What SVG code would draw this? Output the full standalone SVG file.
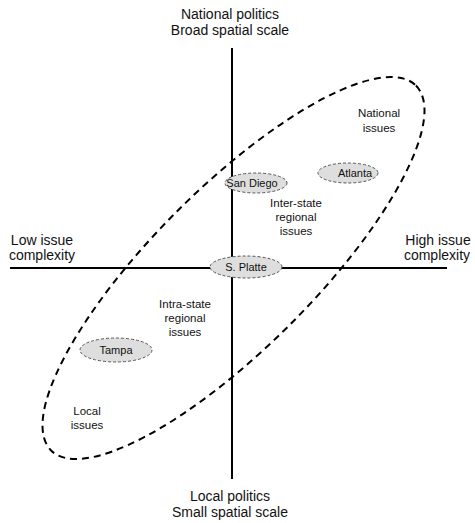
<svg xmlns="http://www.w3.org/2000/svg" width="475" height="523" viewBox="0 0 475 523">
<style>
  .ax { stroke:#000; stroke-width:2; fill:none; }
  .big { stroke:#000; stroke-width:2; fill:none; stroke-dasharray:7 5; }
  .node ellipse { fill:#dedede; stroke:#555; stroke-width:1; stroke-dasharray:3 2; }
  text { font-family:"Liberation Sans", Arial, sans-serif; fill:#111; text-anchor:middle; }
  .t { font-size:14px; }
  .r { font-size:11.5px; }
  .n { font-size:11px; }
</style>
<rect width="475" height="523" fill="#fff"/>
<g id="connectors">
  <line class="ax" x1="232" y1="48" x2="232" y2="479"/>
  <line class="ax" x1="10" y1="268" x2="447" y2="268"/>
  <ellipse class="big" cx="233.5" cy="268" rx="258" ry="80" transform="rotate(-45 233.5 268)"/>
</g>
<g id="axis-labels">
  <text class="t" x="230" y="19">National politics</text>
  <text class="t" x="230" y="35">Broad spatial scale</text>
  <text class="t" x="230" y="501">Local politics</text>
  <text class="t" x="230" y="517">Small spatial scale</text>
  <text class="t" x="42" y="245">Low issue</text>
  <text class="t" x="42" y="260">complexity</text>
  <text class="t" x="438" y="245">High issue</text>
  <text class="t" x="437" y="260">complexity</text>
</g>
<g id="region-labels">
  <text class="r" x="379" y="117">National</text>
  <text class="r" x="379" y="132">issues</text>
  <text class="r" x="296" y="207">Inter-state</text>
  <text class="r" x="296" y="221">regional</text>
  <text class="r" x="296" y="235">issues</text>
  <text class="r" x="185" y="308">Intra-state</text>
  <text class="r" x="185" y="322">regional</text>
  <text class="r" x="185" y="336">issues</text>
  <text class="r" x="87" y="415">Local</text>
  <text class="r" x="87" y="429">issues</text>
</g>
<g id="node-sandiego" class="node">
  <ellipse cx="256" cy="183" rx="31" ry="10"/>
  <text class="n" x="252" y="187">San Diego</text>
</g>
<g id="node-atlanta" class="node">
  <ellipse cx="348" cy="173" rx="30" ry="10"/>
  <text class="n" x="355" y="177">Atlanta</text>
</g>
<g id="node-splatte" class="node">
  <ellipse cx="246" cy="267" rx="36" ry="11"/>
  <text class="n" x="246" y="271">S. Platte</text>
</g>
<g id="node-tampa" class="node">
  <ellipse cx="116" cy="350" rx="36" ry="12"/>
  <text class="n" x="116" y="354">Tampa</text>
</g>
</svg>
